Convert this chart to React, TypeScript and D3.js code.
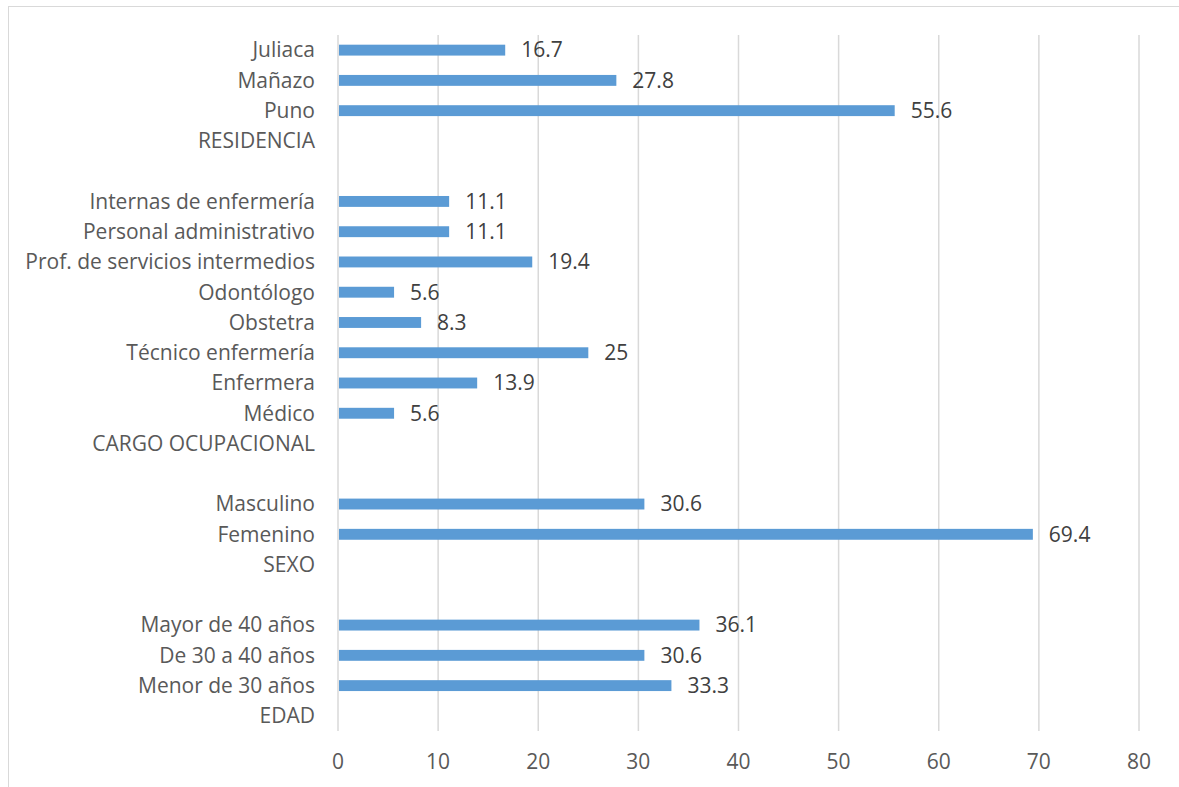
import { useRef, useEffect } from "react";
import * as d3 from "d3";

// categories top to bottom; "" rows are the gaps between groups
const CATEGORIES = [
  "Juliaca", "Mañazo", "Puno", "RESIDENCIA", "",
  "Internas de enfermería", "Personal administrativo", "Prof. de servicios intermedios",
  "Odontólogo", "Obstetra", "Técnico enfermería", "Enfermera", "Médico", "CARGO OCUPACIONAL", "",
  "Masculino", "Femenino", "SEXO", "",
  "Mayor de 40 años", "De 30 a 40 años", "Menor de 30 años", "EDAD",
];
const VALUES: (number | null)[] = [
  16.7, 27.8, 55.6, null, null,
  11.1, 11.1, 19.4, 5.6, 8.3, 25, 13.9, 5.6, null, null,
  30.6, 69.4, null, null,
  36.1, 30.6, 33.3, null,
];
const X_TICKS = [0, 10, 20, 30, 40, 50, 60, 70, 80];

const W = 1179;
const H = 787;
const FONT = "'Open Sans', 'Noto Sans', sans-serif";

export default function App() {
  const svgRef = useRef<SVGSVGElement>(null);

  useEffect(() => {
    const svg = d3.select(svgRef.current);
    svg.selectAll("*").remove();

    const m = { top: 35, right: 40, bottom: 56, left: 338 };
    const w = 1139 - m.left;
    const h = H - m.top - m.bottom;

    // chart frame
    svg.append("rect")
      .attr("x", 8.5).attr("y", 6.5)
      .attr("width", W + 10).attr("height", H + 10)
      .attr("fill", "#fff").attr("stroke", "#d9d9d9");

    const g = svg.append("g").attr("transform", `translate(${m.left},${m.top})`);

    const x = d3.scaleLinear().domain([0, 80]).range([0, w]);
    const keys = CATEGORIES.map((c, i) => `${i}|${c}`);
    const y = d3.scaleBand().domain(keys).range([0, h]).paddingInner(0.64).paddingOuter(0.32);

    // gridlines
    g.selectAll("line.grid")
      .data(X_TICKS)
      .join("line")
      .attr("class", "grid")
      .attr("x1", (d) => x(d)).attr("x2", (d) => x(d))
      .attr("y1", 0).attr("y2", h)
      .attr("stroke", "#d9d9d9").attr("stroke-width", 1.5);

    // x tick labels
    g.selectAll("text.xt")
      .data(X_TICKS)
      .join("text")
      .attr("class", "xt")
      .attr("x", (d) => x(d))
      .attr("y", h + 31)
      .attr("dy", "0.35em")
      .attr("text-anchor", "middle")
      .attr("fill", "#595959")
      .attr("font-family", FONT)
      .attr("font-size", 21)
      .text((d) => d);

    // category labels
    g.selectAll("text.cat")
      .data(keys)
      .join("text")
      .attr("class", "cat")
      .attr("x", -23)
      .attr("y", (d) => (y(d) ?? 0) + y.bandwidth() / 2)
      .attr("dy", "0.35em")
      .attr("text-anchor", "end")
      .attr("fill", "#595959")
      .attr("font-family", FONT)
      .attr("font-size", 21)
      .text((d) => d.split("|")[1]);

    const rows = keys.map((k, i) => ({ k, v: VALUES[i] })).filter((r) => r.v != null) as { k: string; v: number }[];

    g.selectAll("rect.bar")
      .data(rows)
      .join("rect")
      .attr("class", "bar")
      .attr("x", x(0) + 1)
      .attr("y", (d) => y(d.k) ?? 0)
      .attr("width", (d) => x(d.v) - x(0) - 1)
      .attr("height", y.bandwidth())
      .attr("fill", "#5b9bd5");

    g.selectAll("text.val")
      .data(rows)
      .join("text")
      .attr("class", "val")
      .attr("x", (d) => x(d.v) + 16)
      .attr("y", (d) => (y(d.k) ?? 0) + y.bandwidth() / 2)
      .attr("dy", "0.35em")
      .attr("fill", "#404040")
      .attr("font-family", FONT)
      .attr("font-size", 21)
      .text((d) => d.v);
  }, []);

  return (
    <svg
      ref={svgRef}
      width={W}
      height={H}
      style={{ display: "block", position: "absolute", left: 0, top: 0 }}
    />
  );
}
